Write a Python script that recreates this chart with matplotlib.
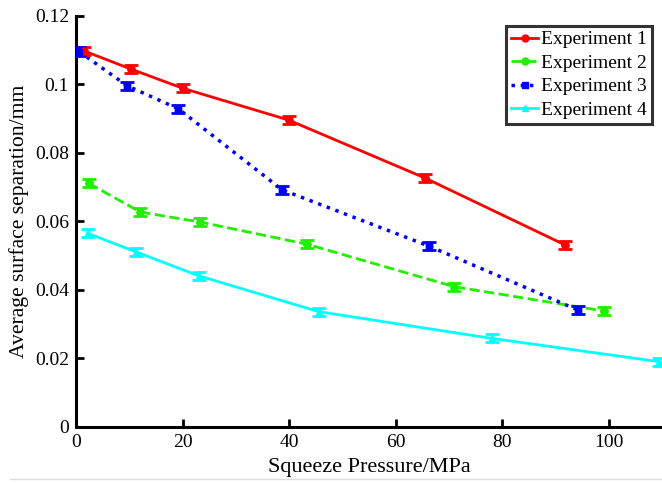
import matplotlib
matplotlib.use("Agg")
import matplotlib.pyplot as plt

plt.rcParams['font.family'] = ['Liberation Serif', 'DejaVu Serif']

# Data
x1 = [1.5, 10.3, 20.0, 39.9, 65.6, 91.8]
y1 = [0.1098, 0.1045, 0.0989, 0.0896, 0.0726, 0.0531]
x2 = [2.4, 12.1, 23.3, 43.4, 71.0, 99.1]
y2 = [0.0711, 0.0627, 0.0598, 0.0533, 0.0409, 0.0338]
x3 = [0.6, 9.6, 19.2, 38.7, 66.2, 94.2]
y3 = [0.1096, 0.0996, 0.0929, 0.0692, 0.0528, 0.0341]
x4 = [2.2, 11.2, 23.0, 45.6, 78.0, 109.4]
y4 = [0.0565, 0.0511, 0.0441, 0.0336, 0.0258, 0.0190]
err = 0.0012

labels = ["Experiment 1", "Experiment 2", "Experiment 3", "Experiment 4"]
xticks = [0, 20, 40, 60, 80, 100]
yticks = [0, 0.02, 0.04, 0.06, 0.08, 0.1, 0.12]
yticklabels = ["0", "0.02", "0.04", "0.06", "0.08", "0.1", "0.12"]

fig = plt.figure(figsize=(6.62, 4.83), dpi=100)
ax = fig.add_axes([0.1148, 0.1166, 0.8852, 0.8503])

series = [
    (x1, y1, '#ff0000', '-', 'o'),
    (x2, y2, '#22ee00', '--', 'o'),
    (x3, y3, '#0000ff', ':', 's'),
    (x4, y4, '#00ffff', '-', '^'),
]
handles = []
for (xs, ys, c, ls, m), lab in zip(series, labels):
    ax.errorbar(xs, ys, yerr=err, color=c, ls='none', elinewidth=2.5,
                capsize=5, capthick=2, marker=m, markersize=5, zorder=3)
    h, = ax.plot(xs, ys, color=c, ls=ls, lw=2 if ls != ':' else 2.5,
                 marker=m, markersize=5, label=lab, zorder=2)
    handles.append(h)

ax.set_xlim(0, 110)
ax.set_ylim(0, 0.12)
ax.set_xticks(xticks)
ax.set_yticks(yticks)
ax.set_yticklabels(yticklabels)
for s in ['top', 'right']:
    ax.spines[s].set_visible(False)
for s in ['left', 'bottom']:
    ax.spines[s].set_linewidth(2.2)
ax.tick_params(direction='in', length=6, width=2, labelsize=14, pad=5)

ax.set_xlabel("Squeeze Pressure/MPa", fontsize=16, labelpad=5)
ax.set_ylabel("Average surface separation/mm", fontsize=15.6, labelpad=4)

leg = fig.legend(handles=handles, loc='upper right',
                 bbox_to_anchor=(652/662, 1 - 26/483), fontsize=14,
                 frameon=True, fancybox=False, handlelength=1.4,
                 handletextpad=0.15, borderpad=0.25, labelspacing=0.3,
                 borderaxespad=0)
leg.get_frame().set_edgecolor('black')
leg.get_frame().set_linewidth(2.2)

fig.add_artist(plt.Line2D([10/662, 1], [4/483, 4/483], color='#dddddd', lw=1,
                          transform=fig.transFigure))

fig.savefig("out.png", dpi=100)
